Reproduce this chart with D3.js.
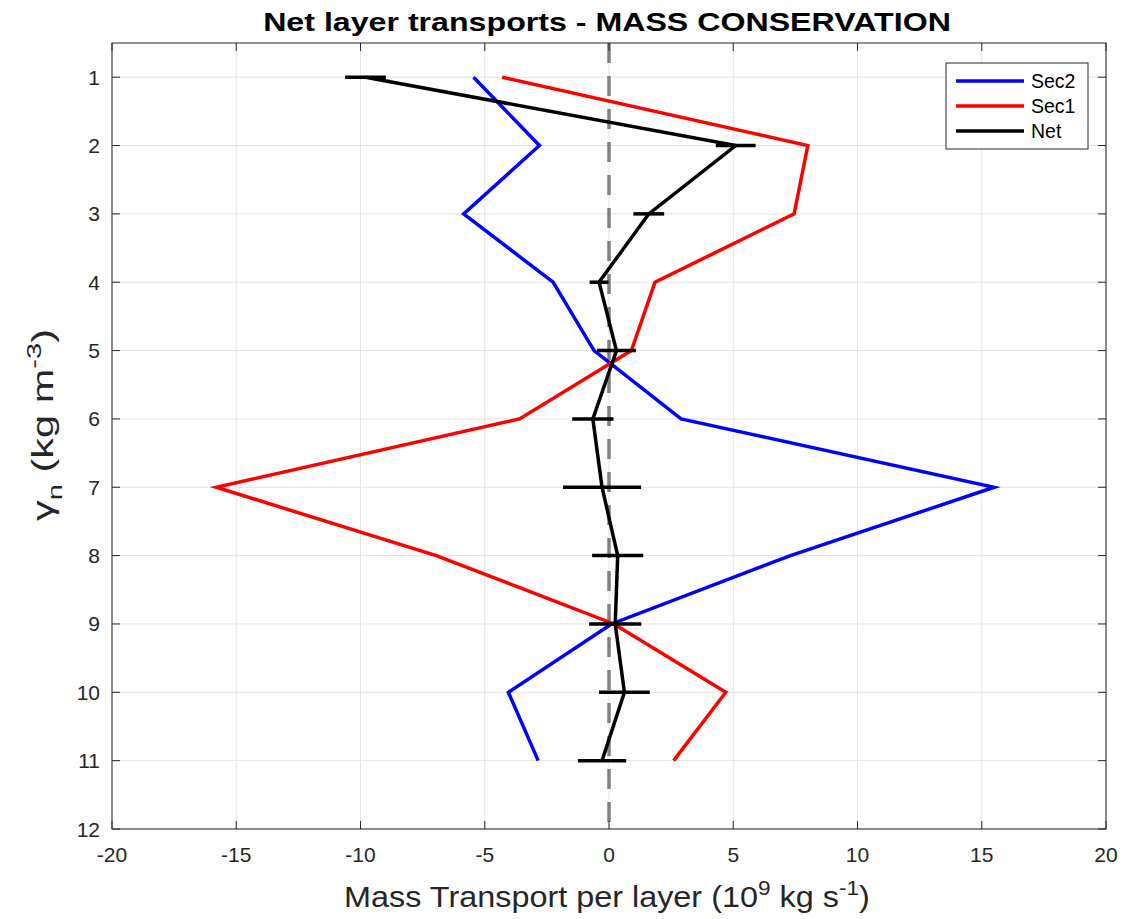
<!DOCTYPE html>
<html>
<head>
<meta charset="utf-8">
<script src="https://cdn.jsdelivr.net/npm/d3@7"></script>
<style>
  body { margin: 0; background: #fff; }
  text { font-family: "Liberation Sans", Arial, Helvetica, sans-serif; }
</style>
</head>
<body>
<div id="main"></div>
<script>
// layer index (y axis)
var layers = [1, 2, 3, 4, 5, 6, 7, 8, 9, 10, 11];
// transports per layer (10^9 kg/s)
var sec2 = [-5.45, -2.8, -5.85, -2.25, -0.6, 2.9, 15.5, 7.3, 0.1, -4.05, -2.85];
var sec1 = [-4.3, 8.0, 7.45, 1.85, 0.9, -3.6, -15.8, -6.95, 0.2, 4.7, 2.6];
var net = [-9.8, 5.1, 1.6, -0.4, 0.3, -0.65, -0.28, 0.35, 0.25, 0.62, -0.28];
var netErr = [0.82, 0.8, 0.62, 0.38, 0.78, 0.83, 1.57, 1.03, 1.05, 1.02, 0.97];
var xTicks = [-20, -15, -10, -5, 0, 5, 10, 15, 20];
var yTicks = [1, 2, 3, 4, 5, 6, 7, 8, 9, 10, 11, 12];

var ctx = {
    w: 1122,
    h: 919,
    left: 112, right: 1106, top: 43, bottom: 829,
};

// stretch a text group along its reading direction to a given length
var fitText = function(g, len, tx, ty, rot){
    var bb = g.node().getBBox();
    var s = len / bb.width;
    g.attr("transform", `translate(${tx},${ty}) rotate(${rot}) scale(${s},1) translate(${-(bb.x + bb.width / 2)},0)`);
};

var createViz = function(){
    var svg = d3.select("#main").append("svg")
      .attr("width", ctx.w)
      .attr("height", ctx.h);

    ctx.xScale = d3.scaleLinear().domain([-20, 20]).range([ctx.left, ctx.right]);
    ctx.yScale = d3.scaleLinear().domain([0.5, 12]).range([ctx.top, ctx.bottom]);
    var x = ctx.xScale, y = ctx.yScale;

    // grid
    var grid = svg.append("g");
    grid.selectAll("line.gx").data(xTicks).enter().append("line")
      .attr("x1", d => x(d)).attr("x2", d => x(d))
      .attr("y1", ctx.top).attr("y2", ctx.bottom)
      .attr("stroke", "#e3e3e3").attr("stroke-width", 1);
    grid.selectAll("line.gy").data(yTicks).enter().append("line")
      .attr("x1", ctx.left).attr("x2", ctx.right)
      .attr("y1", d => y(d)).attr("y2", d => y(d))
      .attr("stroke", "#e3e3e3").attr("stroke-width", 1);

    // zero line
    svg.append("line")
      .attr("x1", x(0)).attr("x2", x(0))
      .attr("y1", ctx.top).attr("y2", ctx.bottom)
      .attr("stroke", "#808080").attr("stroke-width", 3.5)
      .attr("stroke-dasharray", "20,13");

    var line = d3.line()
      .x(d => x(d[0]))
      .y(d => y(d[1]));

    svg.append("path")
      .datum(d3.zip(sec2, layers))
      .attr("d", line)
      .attr("fill", "none").attr("stroke", "#0000ff").attr("stroke-width", 3.5);
    svg.append("path")
      .datum(d3.zip(sec1, layers))
      .attr("d", line)
      .attr("fill", "none").attr("stroke", "#ff0000").attr("stroke-width", 3.5);
    svg.append("path")
      .datum(d3.zip(net, layers))
      .attr("d", line)
      .attr("fill", "none").attr("stroke", "#000").attr("stroke-width", 3.5);

    // error bars
    svg.selectAll("line.err").data(layers).enter().append("line")
      .attr("x1", (d, i) => x(net[i] - netErr[i]))
      .attr("x2", (d, i) => x(net[i] + netErr[i]))
      .attr("y1", d => y(d)).attr("y2", d => y(d))
      .attr("stroke", "#000").attr("stroke-width", 3.5);

    // axes box
    var axisColor = "#262626";
    svg.append("rect")
      .attr("x", ctx.left).attr("y", ctx.top)
      .attr("width", ctx.right - ctx.left).attr("height", ctx.bottom - ctx.top)
      .attr("fill", "none").attr("stroke", axisColor).attr("stroke-width", 1);

    var tl = 8;
    var ticks = svg.append("g").attr("stroke", axisColor).attr("stroke-width", 1);
    xTicks.forEach(function(t){
      ticks.append("line").attr("x1", x(t)).attr("x2", x(t)).attr("y1", ctx.bottom).attr("y2", ctx.bottom - tl);
      ticks.append("line").attr("x1", x(t)).attr("x2", x(t)).attr("y1", ctx.top).attr("y2", ctx.top + tl);
    });
    yTicks.forEach(function(t){
      ticks.append("line").attr("y1", y(t)).attr("y2", y(t)).attr("x1", ctx.left).attr("x2", ctx.left + tl);
      ticks.append("line").attr("y1", y(t)).attr("y2", y(t)).attr("x1", ctx.right).attr("x2", ctx.right - tl);
    });

    svg.selectAll("text.xt").data(xTicks).enter().append("text")
      .attr("x", d => x(d)).attr("y", ctx.bottom + 33)
      .attr("text-anchor", "middle").attr("font-size", 21).attr("fill", axisColor)
      .text(d => d);
    svg.selectAll("text.yt").data(yTicks).enter().append("text")
      .attr("x", ctx.left - 12).attr("y", d => y(d) + 7.5)
      .attr("text-anchor", "end").attr("font-size", 21).attr("fill", axisColor)
      .text(d => d);

    // title
    var tg = svg.append("g");
    tg.append("text")
      .attr("x", 0).attr("y", 0)
      .attr("text-anchor", "middle").attr("font-size", 26.5).attr("font-weight", "bold")
      .attr("fill", "#000")
      .text("Net layer transports - MASS CONSERVATION");
    fitText(tg, 688, 607, 31, 0);

    // x label
    var xg = svg.append("g");
    var xl = xg.append("text")
      .attr("x", 0).attr("y", 0)
      .attr("text-anchor", "middle").attr("font-size", 30).attr("fill", axisColor);
    xl.append("tspan").text("Mass Transport per layer (10");
    xl.append("tspan").attr("dy", -12).attr("font-size", 21).text("9");
    xl.append("tspan").attr("dy", 12).text(" kg s");
    xl.append("tspan").attr("dy", -12).attr("font-size", 21).text("-1");
    xl.append("tspan").attr("dy", 12).text(")");
    fitText(xg, 526, 607, 907, 0);

    // y label
    var yg = svg.append("g");
    var yl = yg.append("text")
      .attr("x", 0).attr("y", 0)
      .attr("text-anchor", "middle").attr("font-size", 30).attr("fill", axisColor);
    yl.append("tspan").text("\u03b3");
    yl.append("tspan").attr("dy", 9).attr("font-size", 21).text("n");
    yl.append("tspan").attr("dy", -9).text(" (kg m");
    yl.append("tspan").attr("dy", -12).attr("font-size", 21).text("-3");
    yl.append("tspan").attr("dy", 12).text(")");
    fitText(yg, 192, 53, 425, -90);

    // legend
    var leg = svg.append("g");
    leg.append("rect")
      .attr("x", 946).attr("y", 63).attr("width", 142).attr("height", 86)
      .attr("fill", "#fff").attr("stroke", axisColor).attr("stroke-width", 1);
    var legItems = [["Sec2", "#0000ff"], ["Sec1", "#ff0000"], ["Net", "#000"]];
    legItems.forEach(function(it, i){
      var ly = 81 + i * 25;
      leg.append("line").attr("x1", 956).attr("x2", 1024).attr("y1", ly).attr("y2", ly)
        .attr("stroke", it[1]).attr("stroke-width", 3.5);
      leg.append("text").attr("x", 1031).attr("y", ly + 7).attr("font-size", 19.5)
        .attr("fill", "#000").text(it[0]);
    });
};

createViz();
</script>
</body>
</html>
